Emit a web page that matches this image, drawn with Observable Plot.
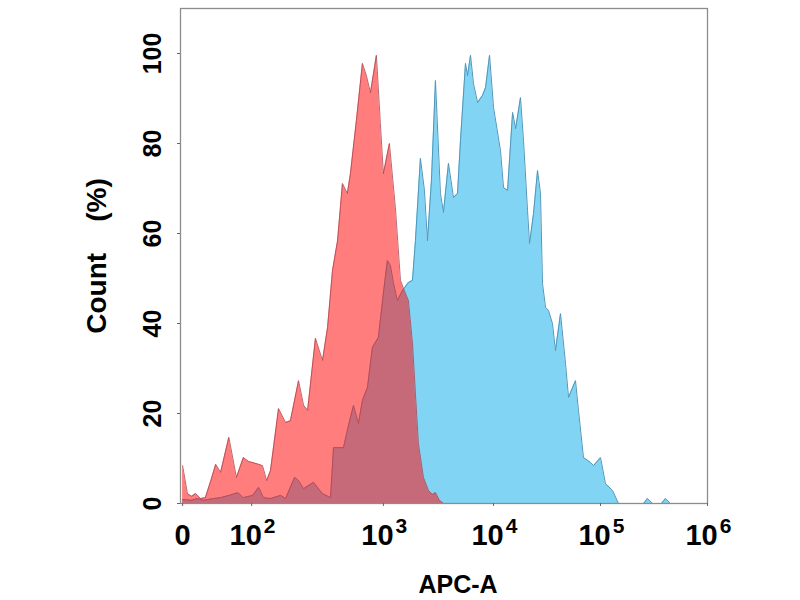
<!DOCTYPE html>
<html>
<head>
<meta charset="utf-8">
<script src="https://cdn.jsdelivr.net/npm/d3@7"></script>
<script src="https://cdn.jsdelivr.net/npm/@observablehq/plot@0.6"></script>
<style>
  body { margin: 0; background: white; }
</style>
</head>
<body>
<div id="chart"></div>
<script>
// control (red) histogram: APC-A value, count in % of max
const apcRed = [0, 7, 13, 19, 26, 33, 41, 48, 55, 67, 78, 88, 96, 102, 113, 121, 130, 139, 160, 181,
  197, 227, 248, 266, 305, 345, 377, 411, 449, 489, 533, 562, 624, 693, 743, 798, 885, 949, 1000, 1134,
  1285, 1429, 1520, 1687, 1837, 1954, 2080, 2311, 2565, 2789, 2970, 3228, 3510];
const countRed = [8.4, 2.2, 1.6, 2.2, 1.1, 1.3, 5.1, 8.7, 6.9, 14.7, 5.8, 10.2, 9.3, 9.1, 8.7, 8.4, 5.1, 7.3, 21.1, 18,
  18.4, 27.3, 21.8, 20.7, 36.7, 31.8, 39.1, 51.8, 58.4, 71.1, 68.9, 73.3, 85.1, 97.8, 95.1, 91.3, 99.6, 84.4, 73.3, 80,
  65.8, 49.6, 47.8, 45.1, 35.6, 24.4, 13.3, 5.8, 2.9, 2, 2.4, 0.7, 0];

// stained (blue) histogram
const apcBlue = [0, 12, 22, 30, 45, 55, 67, 80, 88, 102, 113, 123, 139, 166, 181, 212, 227, 248, 295, 345,
  397, 418, 498, 543, 593, 647, 693, 757, 826, 916, 1000, 1087, 1158, 1233, 1340, 1489, 1687, 1837, 1954, 2168,
  2358, 2512, 2731, 2970, 3296, 3510, 3899, 4329, 4710, 5012, 5563, 5803, 6180, 6579, 7161, 7943, 8458, 9200, 10000, 11620,
  12400, 13520, 15070, 16070, 17870, 19060, 20790, 21690, 23640, 25780, 27480, 28690, 30610, 32660, 35560, 37930, 42270, 47100, 50230, 58380,
  62230, 69310, 75660, 80700, 86100, 100000, 111300, 129500, 147300, 252600, 274600, 306000, 371500, 404300, 450800, 1000000];
const countBlue = [0.9, 0.7, 1.1, 0.7, 1.1, 1.3, 1.8, 2.4, 1.3, 1.8, 3.6, 1.3, 1.1, 1.8, 1.1, 5.8, 5.1, 3.3, 4.7, 2.2,
  1.3, 12.4, 12.4, 17.3, 21.8, 17.8, 22.9, 25.8, 34.7, 36.9, 46.7, 54, 52.9, 49.1, 45.1, 47.3, 49.1, 49.6, 58.4, 76.7,
  69.6, 58.4, 71.8, 94, 68.9, 64.7, 75.6, 68, 68.9, 80.7, 97.8, 95.1, 99.6, 93.3, 89.1, 90.7, 92.4, 99.6, 88, 78.4,
  70.2, 69.6, 86.9, 83.3, 90.2, 80.7, 65.1, 57.8, 64.4, 74, 68.9, 48.9, 43.6, 42.9, 40, 34, 42.2, 31.1, 23.6, 27.3,
  20.7, 10.2, 9.6, 9.1, 8.4, 10.2, 4.4, 2.9, 0, 0, 1.1, 0, 0, 1.1, 0, 0];

// axis
const xTickValues = [0, 1e2, 1e3, 1e4, 1e5, 1e6];
const xTickExp = ["", "2", "3", "4", "5", "6"];
const yTicks = [0, 20, 40, 60, 80, 100];

// biexponential display: where each decade sits along the axis (0..1)
const decadeStops = [0.004, 0.135, 0.385, 0.594, 0.797, 1.0];
function biex(v) {
  if (v <= 100) return decadeStops[0] + (decadeStops[1] - decadeStops[0]) * v / 100;
  const d = Math.min(Math.log10(v), 6);
  const k = Math.min(Math.floor(d), 5) - 1;
  return decadeStops[k] + (d - (k + 1)) * (decadeStops[k + 1] - decadeStops[k]);
}

const red = apcRed.map((v, i) => ({apc: v, count: countRed[i]}));
const blue = apcBlue.map((v, i) => ({apc: v, count: countBlue[i]}));
const decades = xTickValues.map((v, i) => ({v, exp: xTickExp[i]})).filter(d => d.exp);

const font = "'Liberation Sans', Arial, sans-serif";

const chart = Plot.plot({
  width: 800,
  height: 600,
  marginLeft: 180,
  marginRight: 93,
  marginTop: 8,
  marginBottom: 97,
  x: {domain: [0, 1], axis: null},
  y: {domain: [0, 110], axis: null},
  style: {fontFamily: font, fontWeight: "bold", background: "white", overflow: "visible"},
  marks: [
    Plot.areaY(blue, {x: d => biex(d.apc), y: "count", fill: "rgb(130,212,245)"}),
    Plot.lineY(blue, {x: d => biex(d.apc), y: "count", stroke: "rgb(80,150,185)", strokeWidth: 1}),
    Plot.areaY(red, {x: d => biex(d.apc), y: "count", fill: "rgb(255,19,19)", fillOpacity: 0.55}),
    Plot.lineY(red, {x: d => biex(d.apc), y: "count", stroke: "rgb(170,70,80)", strokeWidth: 1, strokeOpacity: 0.8}),
    Plot.frame({stroke: "#8c8c8c", strokeWidth: 1.3}),
    Plot.axisX({ticks: xTickValues.map(biex), tickSize: 3, tickFormat: () => "", label: null, stroke: "#666"}),
    Plot.axisY({ticks: yTicks, tickSize: 3, tickFormat: () => "", label: null, stroke: "#666"}),
    Plot.text([0], {x: biex, text: ["0"], frameAnchor: "bottom", lineAnchor: "bottom",
      dy: 41, fontSize: 29, fill: "black"}),
    Plot.text(decades, {x: d => biex(d.v), text: () => "10", frameAnchor: "bottom", lineAnchor: "bottom",
      dy: 41, dx: -6, fontSize: 29, fill: "black"}),
    Plot.text(decades, {x: d => biex(d.v), text: "exp", frameAnchor: "bottom", lineAnchor: "bottom",
      dy: 29, dx: 18, fontSize: 21, fill: "black"}),
    Plot.text(yTicks, {y: d => d, text: d => String(d), frameAnchor: "left", textAnchor: "middle",
      dx: -28, rotate: -90, fontSize: 25, fill: "black"}),
    Plot.text(["Count\u00a0\u00a0\u00a0\u00a0(%)"], {frameAnchor: "left", textAnchor: "middle", dx: -83,
      rotate: -90, fontSize: 28, fill: "black"}),
    Plot.text(["APC-A"], {frameAnchor: "bottom", lineAnchor: "bottom", dx: 14, dy: 89, fontSize: 25, fill: "black"})
  ]
});

d3.select("#chart").append(() => chart);
</script>
</body>
</html>
